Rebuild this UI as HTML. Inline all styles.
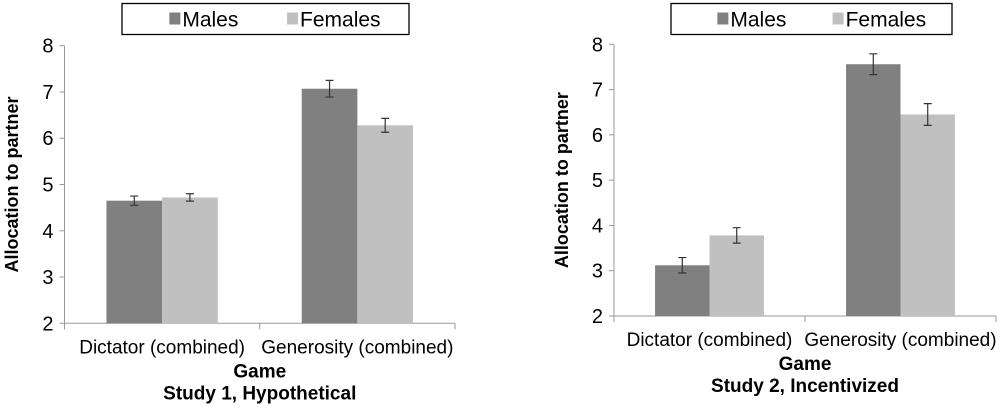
<!DOCTYPE html>
<html><head><meta charset="utf-8"><style>
body{margin:0;background:#fff;width:1000px;height:407px;overflow:hidden}
svg{font-family:"Liberation Sans",Arial,sans-serif}
</style></head><body>
<svg id="s" width="1000" height="407"></svg>
<script>
const categories=["Dictator (combined)","Generosity (combined)"];
const seriesNames=["Males","Females"];
const study1Males=[4.65,7.07];
const study1Females=[4.72,6.28];
const study1MalesErr=[0.10,0.18];
const study1FemalesErr=[0.08,0.15];
const study2Males=[3.12,7.56];
const study2Females=[3.78,6.45];
const study2MalesErr=[0.17,0.23];
const study2FemalesErr=[0.17,0.24];
const yTicks=[2,3,4,5,6,7,8];
const colors=["#808080","#c0c0c0"];
const svg=document.getElementById('s');
const NS='http://www.w3.org/2000/svg';
function mk(t,a,p,txt){const e=document.createElementNS(NS,t);for(const k in a)e.setAttribute(k,a[k]);if(txt!==undefined)e.textContent=txt;(p||svg).appendChild(e);return e;}
function chart(cfg){
  const g=mk('g',{});
  
  
  const y=v=>cfg.y2-(v-2)*(cfg.y2-cfg.y8)/6;
  const bandW=(cfg.xr-cfg.xl)/categories.length;
  const lg=mk('g',{},g);
  
  
  mk('rect',{x:cfg.lx,y:cfg.ly,width:cfg.lw,height:31,fill:'#fff',stroke:'#000','stroke-width':1.3},lg);
  seriesNames.forEach((n,i)=>{
    const ex=cfg.lx+cfg.lw*(i?0.575:0.165);
    const r=mk('rect',{x:ex,y:cfg.ly+9,width:11,height:12,fill:colors[i]},lg);
    
    
    const t=mk('text',{x:ex+13,y:cfg.ly+23,'font-size':21,fill:'#000'},lg,n);
    
    
  });
  mk('line',{x1:cfg.xl,y1:cfg.y8,x2:cfg.xl,y2:cfg.y2,stroke:'#999','stroke-width':1},g);
  mk('line',{x1:cfg.xl,y1:cfg.y2,x2:cfg.xr,y2:cfg.y2,stroke:'#999','stroke-width':1},g);
  yTicks.forEach(v=>{
    mk('line',{x1:cfg.xl-5,y1:y(v),x2:cfg.xl,y2:y(v),stroke:'#999'},g);
    const t=mk('text',{x:cfg.xl-11,y:y(v)+7,'font-size':20,'text-anchor':'end'},g,v);
    
    
  });
  for(let i=0;i<=categories.length;i++){
    const xx=cfg.xl+i*bandW;
    mk('line',{x1:xx,y1:cfg.y2,x2:xx,y2:cfg.y2+6,stroke:'#999'},g);
  }
  const data=[cfg.m,cfg.f],errs=[cfg.me,cfg.fe];
  const bw=bandW*0.285;
  categories.forEach((c,ci)=>{
    const cx=cfg.xl+(ci+0.5)*bandW;
    data.forEach((ser,si)=>{
      const x0=cx-bw+si*bw;
      const b=mk('rect',{x:x0,y:y(ser[ci]),width:bw,height:cfg.y2-y(ser[ci]),fill:colors[si]},g);
      
      
      const ex=x0+bw/2,e=errs[si][ci];
      const eb=mk('path',{d:`M${ex},${y(ser[ci]+e)}V${y(ser[ci]-e)}M${ex-4},${y(ser[ci]+e)}h8M${ex-4},${y(ser[ci]-e)}h8`,stroke:'#333','stroke-width':1.2,fill:'none'},g);
      
      
    });
    const t=mk('text',{x:cx,y:cfg.y2+30,'font-size':19,'text-anchor':'middle'},g,c);
    
    
  });
  const xm=(cfg.xl+cfg.xr)/2;
  const gt=mk('text',{x:xm,y:cfg.y2+54,'font-size':19,'font-weight':'bold','text-anchor':'middle'},g,'Game');
  
  
  const st=mk('text',{x:xm,y:cfg.y2+76,'font-size':19,'font-weight':'bold','text-anchor':'middle'},g,cfg.title);
  
  
  const yt=mk('text',{x:0,y:0,'font-size':18,'font-weight':'bold','text-anchor':'middle',transform:`translate(${cfg.tx},${(cfg.y2+cfg.y8)/2}) rotate(-90)`},g,'Allocation to partner');
  
  
}
chart({name:'chart-study-1',xl:64.5,xr:455,y8:45.7,y2:323.3,lx:122,ly:3.5,lw:287,tx:18,title:'Study 1, Hypothetical',m:study1Males,f:study1Females,me:study1MalesErr,fe:study1FemalesErr});
chart({name:'chart-study-2',xl:614,xr:996,y8:44.3,y2:316,lx:671,ly:3.5,lw:281,tx:568,title:'Study 2, Incentivized',m:study2Males,f:study2Females,me:study2MalesErr,fe:study2FemalesErr});
</script>
</body></html>
